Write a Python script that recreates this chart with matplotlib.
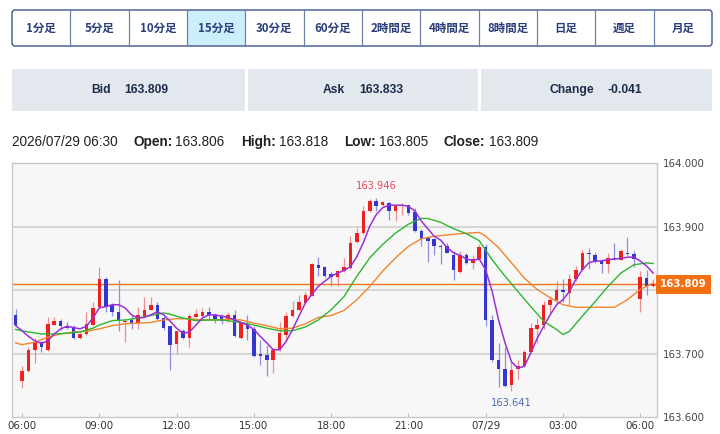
import numpy as np
import matplotlib.pyplot as plt
from matplotlib.patches import Rectangle, FancyBboxPatch

# 15-minute candles, 07/28 05:45 -> 07/29 06:30
opens = [163.761, 163.657, 163.672, 163.705, 163.718, 163.705, 163.745, 163.752, 163.744, 163.741,
         163.724, 163.731, 163.745, 163.773, 163.817, 163.777, 163.766, 163.749, 163.753, 163.748,
         163.760, 163.768, 163.777, 163.756, 163.743, 163.715, 163.736, 163.724, 163.758, 163.760,
         163.765, 163.761, 163.759, 163.753, 163.761, 163.725, 163.747, 163.739, 163.699, 163.698,
         163.690, 163.706, 163.730, 163.759, 163.768, 163.780, 163.790, 163.840, 163.837, 163.825,
         163.821, 163.830, 163.835, 163.876, 163.890, 163.925, 163.940, 163.935, 163.938, 163.925,
         163.932, 163.934, 163.923, 163.893, 163.883, 163.880, 163.870, 163.870, 163.856, 163.828,
         163.856, 163.843, 163.849, 163.868, 163.753, 163.690, 163.675, 163.651, 163.675, 163.680,
         163.703, 163.739, 163.745, 163.777, 163.784, 163.800, 163.796, 163.817, 163.832, 163.858,
         163.856, 163.846, 163.842, 163.851, 163.847, 163.859, 163.857, 163.786, 163.819, 163.806]
highs = [163.770, 163.681, 163.711, 163.724, 163.720, 163.758, 163.758, 163.755, 163.749, 163.745,
         163.733, 163.766, 163.781, 163.836, 163.821, 163.780, 163.816, 163.753, 163.761, 163.773,
         163.789, 163.789, 163.781, 163.759, 163.744, 163.736, 163.739, 163.762, 163.771, 163.772,
         163.773, 163.764, 163.763, 163.765, 163.768, 163.750, 163.761, 163.743, 163.722, 163.714,
         163.709, 163.749, 163.765, 163.783, 163.793, 163.797, 163.843, 163.853, 163.838, 163.829,
         163.832, 163.850, 163.885, 163.898, 163.932, 163.943, 163.946, 163.940, 163.939, 163.935,
         163.938, 163.935, 163.930, 163.896, 163.885, 163.883, 163.873, 163.875, 163.861, 163.861,
         163.859, 163.855, 163.872, 163.872, 163.761, 163.717, 163.710, 163.687, 163.690, 163.706,
         163.748, 163.756, 163.783, 163.790, 163.814, 163.818, 163.825, 163.838, 163.864, 163.867,
         163.860, 163.849, 163.859, 163.874, 163.865, 163.884, 163.861, 163.830, 163.831, 163.818]
lows = [163.743, 163.646, 163.671, 163.685, 163.702, 163.704, 163.745, 163.737, 163.738, 163.723,
        163.723, 163.730, 163.745, 163.772, 163.766, 163.759, 163.736, 163.718, 163.738, 163.739,
        163.760, 163.768, 163.753, 163.737, 163.674, 163.700, 163.723, 163.710, 163.757, 163.758,
        163.754, 163.748, 163.747, 163.750, 163.726, 163.723, 163.722, 163.695, 163.682, 163.665,
        163.670, 163.704, 163.722, 163.758, 163.768, 163.780, 163.790, 163.823, 163.821, 163.806,
        163.806, 163.829, 163.834, 163.874, 163.889, 163.924, 163.925, 163.932, 163.911, 163.909,
        163.919, 163.919, 163.892, 163.870, 163.844, 163.856, 163.842, 163.858, 163.816, 163.827,
        163.842, 163.834, 163.848, 163.743, 163.687, 163.648, 163.648, 163.641, 163.660, 163.679,
        163.703, 163.717, 163.738, 163.764, 163.780, 163.781, 163.777, 163.815, 163.832, 163.834,
        163.843, 163.827, 163.827, 163.848, 163.847, 163.856, 163.837, 163.766, 163.793, 163.805]
closes = [163.745, 163.673, 163.706, 163.719, 163.710, 163.747, 163.752, 163.744, 163.741, 163.724,
          163.731, 163.747, 163.772, 163.817, 163.773, 163.765, 163.751, 163.752, 163.748, 163.761,
          163.769, 163.777, 163.754, 163.741, 163.714, 163.735, 163.724, 163.759, 163.763, 163.766,
          163.761, 163.754, 163.752, 163.761, 163.727, 163.749, 163.739, 163.696, 163.696, 163.690,
          163.706, 163.733, 163.760, 163.768, 163.781, 163.793, 163.842, 163.835, 163.823, 163.821,
          163.830, 163.837, 163.875, 163.890, 163.925, 163.940, 163.932, 163.939, 163.925, 163.932,
          163.935, 163.921, 163.893, 163.881, 163.877, 163.870, 163.868, 163.859, 163.831, 163.856,
          163.843, 163.849, 163.868, 163.753, 163.690, 163.675, 163.649, 163.674, 163.680, 163.703,
          163.740, 163.745, 163.777, 163.785, 163.800, 163.797, 163.818, 163.832, 163.858, 163.857,
          163.844, 163.841, 163.851, 163.849, 163.861, 163.857, 163.849, 163.821, 163.806, 163.809]

# moving average lines
ma_short = [163.744, 163.736, 163.727, 163.720, 163.716, 163.720, 163.731, 163.739, 163.743, 163.741,
            163.739, 163.743, 163.756, 163.772, 163.774, 163.777, 163.777, 163.772, 163.761, 163.756,
            163.757, 163.761, 163.766, 163.761, 163.751, 163.740, 163.732, 163.734, 163.745, 163.756,
            163.761, 163.761, 163.759, 163.757, 163.753, 163.749, 163.745, 163.738, 163.727, 163.717,
            163.706, 163.706, 163.719, 163.738, 163.759, 163.780, 163.793, 163.806, 163.814, 163.822,
            163.827, 163.831, 163.837, 163.853, 163.875, 163.901, 163.919, 163.930, 163.934, 163.934,
            163.934, 163.932, 163.925, 163.909, 163.897, 163.885, 163.879, 163.867, 163.859, 163.855,
            163.849, 163.847, 163.849, 163.832, 163.798, 163.753, 163.717, 163.687, 163.677, 163.680,
            163.701, 163.724, 163.743, 163.761, 163.777, 163.785, 163.798, 163.817, 163.832, 163.843,
            163.846, 163.846, 163.848, 163.849, 163.850, 163.852, 163.852, 163.846, 163.838, 163.827]
ma_mid_idx = [0, 2, 4, 6, 8, 10, 12, 13, 15, 17, 19, 21, 23, 24, 26, 28, 30, 32, 35, 37, 39, 41, 43,
              45, 47, 49, 51, 53, 55, 57, 59, 61, 63, 64, 66, 68, 70, 72, 74, 76, 78, 80, 82, 84, 85,
              86, 88, 90, 92, 94, 96, 98, 99]
ma_mid = [163.738, 163.734, 163.731, 163.731, 163.732, 163.734, 163.740, 163.745, 163.752, 163.753,
          163.756, 163.760, 163.764, 163.762, 163.756, 163.752, 163.753, 163.753, 163.749, 163.745,
          163.740, 163.736, 163.736, 163.742, 163.753, 163.769, 163.790, 163.822, 163.851, 163.872,
          163.890, 163.904, 163.913, 163.913, 163.907, 163.897, 163.889, 163.878, 163.848, 163.822,
          163.798, 163.774, 163.751, 163.738, 163.730, 163.735, 163.759, 163.782, 163.806, 163.827,
          163.840, 163.843, 163.842]
ma_long_idx = [0, 1, 3, 5, 7, 9, 11, 13, 15, 17, 19, 21, 23, 25, 27, 29, 31, 33, 35, 37, 39, 41, 43,
               45, 47, 49, 51, 53, 55, 57, 59, 61, 63, 65, 67, 69, 72, 73, 75, 77, 79, 81, 83, 85, 87,
               90, 93, 95, 97, 99]
ma_long = [163.717, 163.714, 163.718, 163.726, 163.731, 163.734, 163.735, 163.739, 163.744, 163.747,
           163.748, 163.749, 163.753, 163.755, 163.755, 163.753, 163.753, 163.754, 163.753, 163.748,
           163.744, 163.739, 163.740, 163.747, 163.757, 163.760, 163.768, 163.785, 163.806, 163.830,
           163.851, 163.869, 163.881, 163.885, 163.887, 163.889, 163.891, 163.885, 163.867, 163.843,
           163.819, 163.801, 163.788, 163.777, 163.773, 163.773, 163.773, 163.785, 163.801, 163.811]

tick_idx = [1, 13, 25, 37, 49, 61, 73, 85, 97]
tick_labels = ["06:00", "09:00", "12:00", "15:00", "18:00", "21:00", "07/29", "03:00", "06:00"]
y_ticks = [163.6, 163.7, 163.8, 163.9, 164.0]

tabs = ["1分足", "5分足", "10分足", "15分足", "30分足", "60分足",
        "2時間足", "4時間足", "8時間足", "日足", "週足", "月足"]
active_tab = "15分足"
bid, ask, change = "163.809", "163.833", "-0.041"
stamp = "2026/07/29 06:30"

cjk = ["Noto Sans CJK JP", "DejaVu Sans"]
sans = ["Liberation Sans", "DejaVu Sans"]

fig = plt.figure(figsize=(7.2, 4.34), dpi=100)
renderer = fig.canvas.get_renderer()

# page overlay in pixel coordinates
ov = fig.add_axes([0, 0, 1, 1])
ov.set_xlim(0, 720)
ov.set_ylim(434, 0)
ov.axis("off")

# period tabs
tx0, tx1, ty0, ty1 = 12, 712, 10, 46
tw = (tx1 - tx0) / len(tabs)
for k, name in enumerate(tabs):
    fc = "#cdeefb" if name == active_tab else "white"
    ov.add_patch(Rectangle((tx0 + k * tw, ty0), tw, ty1 - ty0, fc=fc, ec="none"))
    if k > 0:
        ov.plot([tx0 + k * tw] * 2, [ty0, ty1], color="#6f80a8", lw=0.9)
    ov.text(tx0 + (k + 0.5) * tw, (ty0 + ty1) / 2 + 0.5, name, ha="center", va="center",
            fontsize=8.3, fontweight="bold", color="#2b3d7a", family=cjk)
ov.add_patch(FancyBboxPatch((tx0, ty0), tx1 - tx0, ty1 - ty0,
                            boxstyle="round,pad=0,rounding_size=3",
                            fc="none", ec="#3f5689", lw=1.0))

# bid / ask / change bar
boxes = [(12, 245, "Bid", bid, 91, 124), (248, 478, "Ask", ask, 323, 359),
         (481, 712, "Change", change, 550, 608)]
for x0, x1, lab, val, lx, vx in boxes:
    ov.add_patch(Rectangle((x0, 69), x1 - x0, 42, fc="#e2e8ee", ec="none"))
    ov.text(lx, 90, lab, ha="left", va="center", fontsize=8.7, fontweight="bold",
            color="#1d2b4a", family=sans)
    ov.text(vx, 90, val, ha="left", va="center", fontsize=8.7, fontweight="bold",
            color="#1d2b4a", family=sans)

# OHLC header line: label at fixed x, value right after it
pairs = [("Open:", f"{opens[-1]:.3f}", 133), ("High:", f"{highs[-1]:.3f}", 241),
         ("Low:", f"{lows[-1]:.3f}", 344), ("Close:", f"{closes[-1]:.3f}", 444)]
ov.text(12, 142, stamp, ha="left", va="center", fontsize=9.8, color="#222222", family=sans)
for lab, val, x in pairs:
    t = ov.text(x, 142, lab, ha="left", va="center", fontsize=9.8, fontweight="bold",
                color="#222222", family=sans)
    wpx = t.get_window_extent(renderer).width
    ov.text(x + wpx + 3, 142, val, ha="left", va="center", fontsize=9.8,
            color="#222222", family=sans)

# candlestick chart
ax = fig.add_axes([12 / 720, 1 - 417 / 434, 645 / 720, (417 - 163.3) / 434])
ax.set_facecolor("#f7f7f7")
o = np.array(opens)
h = np.array(highs)
l = np.array(lows)
c = np.array(closes)
idx = np.arange(len(o))
up = c >= o

ax.vlines(idx[up], l[up], h[up], color="#f08e8e", lw=0.9, zorder=2)
ax.vlines(idx[~up], l[~up], h[~up], color="#8e8ee2", lw=0.9, zorder=2)
body_lo = np.minimum(o, c)
body_h = np.maximum(np.abs(c - o), 0.0016)
ax.bar(idx[up], body_h[up], bottom=body_lo[up], width=0.55, color="#ee2020", zorder=2.5)
ax.bar(idx[~up], body_h[~up], bottom=body_lo[~up], width=0.55, color="#3535d0", zorder=2.5)

ax.plot(ma_long_idx, ma_long, color="#f0862c", lw=1.0, zorder=3)
ax.plot(ma_mid_idx, ma_mid, color="#2fb52f", lw=1.0, zorder=3)
ax.plot(idx, ma_short, color="#9a30d8", lw=1.1, zorder=3.2)

ax.axhline(closes[-1], color="#f27420", lw=1.0, zorder=1.8)

for yv in y_ticks[1:-1]:
    ax.axhline(yv, color="#d6d6d6", lw=1.4, zorder=1)

hi = int(np.argmax(h))
lo = int(np.argmin(l))
ax.annotate(f"{h[hi]:.3f}", xy=(hi, h[hi]), xytext=(0, 8), textcoords="offset points",
            ha="center", va="center", fontsize=7.1, color="#e8435c")
ax.annotate(f"{l[lo]:.3f}", xy=(lo, l[lo]), xytext=(0, -8.6), textcoords="offset points",
            ha="center", va="center", fontsize=7.1, color="#4a6ab0")

ax.set_xlim(-0.56, 99.6)
ax.set_ylim(163.6, 164.0)
ax.set_xticks(tick_idx, tick_labels)
# the 163.800 label sits under the current-price box, so it is left blank
ax.set_yticks(y_ticks, ["" if abs(v - 163.8) < 1e-9 else f"{v:.3f}" for v in y_ticks])
ax.yaxis.tick_right()
ax.tick_params(axis="y", length=0, pad=4.5, labelsize=7.4, labelcolor="#444444")
ax.tick_params(axis="x", length=3, direction="in", color="#c0c0c0", pad=3,
               labelsize=7.4, labelcolor="#333333")
for sp in ax.spines.values():
    sp.set_color("#c8c8c8")
    sp.set_linewidth(1.0)

ax.annotate(f"{closes[-1]:.3f}", xy=(1, closes[-1]), xycoords=("axes fraction", "data"),
            xytext=(2.2, 0), textcoords="offset points", ha="left", va="center",
            fontsize=7.4, color="white", fontweight="bold", zorder=10, annotation_clip=False,
            bbox=dict(boxstyle="square,pad=0.42", fc="#f46e14", ec="none"))

fig.savefig("out.png", dpi=100)
